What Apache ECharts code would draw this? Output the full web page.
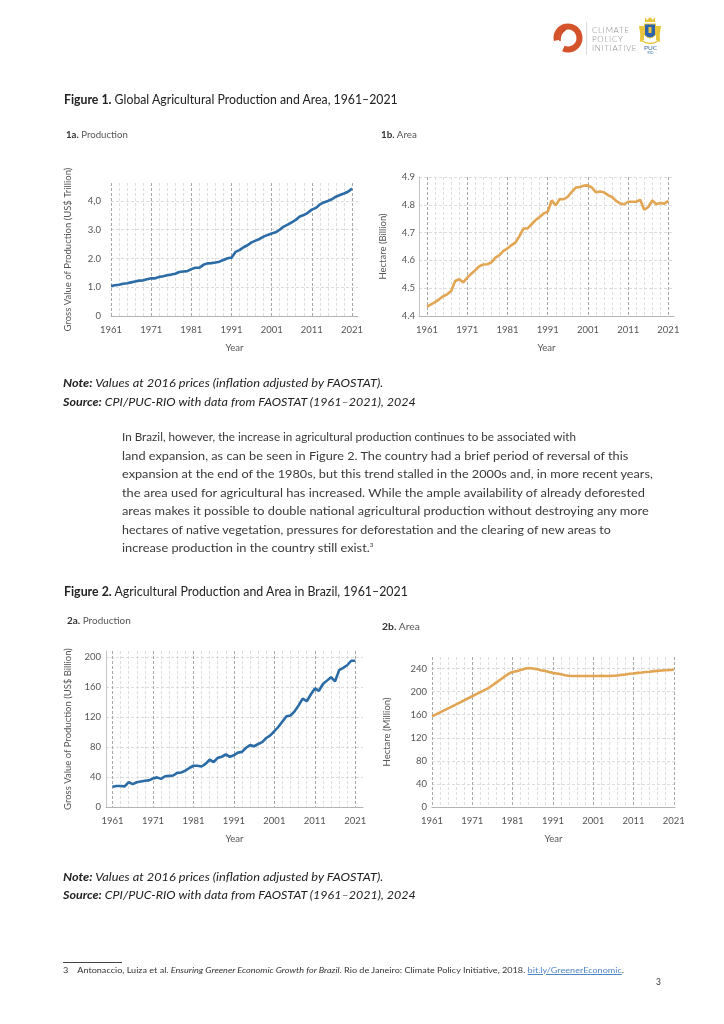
<!DOCTYPE html>
<html><head><meta charset="utf-8">
<script src="https://cdn.jsdelivr.net/npm/echarts@6/dist/echarts.min.js"></script>
<style>
html,body{margin:0;padding:0;background:#fff;}
body{width:724px;height:1024px;position:relative;overflow:hidden;font-family:Lato,"Noto Sans",sans-serif;color:#333;}
#chart{position:absolute;left:0;top:0;width:724px;height:1024px;}
.t{position:absolute;white-space:nowrap;transform-origin:0 50%;line-height:1;}
.it{font-style:italic;}
.logo{position:absolute;left:592px;font-size:8px;letter-spacing:0.7px;color:#8d8d8d;font-weight:300;line-height:1;white-space:nowrap;}
a{color:#4f86c9;text-decoration:underline;}
</style></head><body>
<div id="chart"></div>

<svg style="position:absolute;left:550px;top:14px" width="120" height="50" viewBox="0 0 120 50">
  <circle cx="18" cy="24" r="11.5" fill="none" stroke="#d4532b" stroke-width="6" stroke-dasharray="61 11.3" transform="rotate(168 18 24)"/>
  <path d="M10 27 Q9.5 19 15.5 15.5" fill="none" stroke="#c8461f" stroke-width="1.6"/>
  <line x1="36.5" y1="8" x2="36.5" y2="41" stroke="#dcdcdc" stroke-width="1"/>
  <path d="M95 3 L97 6 L100 3 L103 6 L105 3 L105 8 L95 8 Z" fill="#e8c53a"/>
  <path d="M89 12 Q91 20 90 28 L94 26 L94 12 Z" fill="#e8c53a"/>
  <path d="M111 12 Q109 20 110 28 L106 26 L106 12 Z" fill="#e8c53a"/>
  <path d="M94.5 10 L105.5 10 L105.5 21 Q100 27 94.5 21 Z" fill="#2f62ad" stroke="#e8c53a" stroke-width="1"/>
  <rect x="98.5" y="13" width="3" height="6" fill="#e8c53a"/>
  <path d="M92 27 Q100 32 108 27" fill="none" stroke="#e8c53a" stroke-width="1.4"/>
</svg>
<div class="logo" style="top:26px">CLIMATE</div>
<div class="logo" style="top:35px">POLICY</div>
<div class="logo" style="top:43.5px">INITIATIVE</div>
<div class="t" style="left:644px;top:44.5px;font-size:6.5px;color:#3c6aa6;">PUC</div>
<div class="t" style="left:647.5px;top:51.5px;font-size:3.5px;color:#3c6aa6;">RIO</div>

<div class="t" data-w="334" style="left:64px;top:94px;font-size:12.5px;color:#222;"><b>Figure 1.</b> Global Agricultural Production and Area, 1961–2021</div>
<div class="t" data-w="62" style="left:66px;top:130px;font-size:9px;color:#555;"><b style="color:#333">1a.</b> Production</div>
<div class="t" data-w="36" style="left:381px;top:130px;font-size:9px;color:#555;"><b style="color:#333">1b.</b> Area</div>

<div class="t it" data-w="320" style="left:63px;top:376.5px;font-size:11.5px;color:#222;"><b>Note:</b> Values at 2016 prices (inflation adjusted by FAOSTAT).</div>
<div class="t it" data-w="353" style="left:63px;top:395.5px;font-size:11.5px;color:#222;"><b>Source:</b> CPI/PUC-RIO with data from FAOSTAT (1961–2021), 2024</div>

<div id="para"></div>

<div class="t" data-w="344" style="left:64px;top:586px;font-size:12.5px;color:#222;"><b>Figure 2.</b> Agricultural Production and Area in Brazil, 1961–2021</div>
<div class="t" data-w="64" style="left:67px;top:615.5px;font-size:9px;color:#555;"><b style="color:#333">2a.</b> Production</div>
<div class="t" data-w="38" style="left:382px;top:621.5px;font-size:9px;color:#555;"><b style="color:#333">2b.</b> Area</div>

<div class="t it" data-w="320" style="left:63px;top:870.5px;font-size:11.5px;color:#222;"><b>Note:</b> Values at 2016 prices (inflation adjusted by FAOSTAT).</div>
<div class="t it" data-w="353" style="left:63px;top:888.5px;font-size:11.5px;color:#222;"><b>Source:</b> CPI/PUC-RIO with data from FAOSTAT (1961–2021), 2024</div>

<div style="position:absolute;left:63px;top:962px;width:59px;height:0;border-top:0.8px solid #444;"></div>
<div class="t" data-w="561" style="left:63px;top:966.5px;font-size:7.5px;color:#333;">3&nbsp;&nbsp;&nbsp;&nbsp;Antonaccio, Luiza et al. <i>Ensuring Greener Economic Growth for Brazil</i>. Rio de Janeiro: Climate Policy Initiative, 2018. <a>bit.ly/GreenerEconomic</a>.</div>
<div class="t" style="left:656px;top:978px;font-size:8.5px;color:#333;">3</div>

<script>
// ---------- DATA ----------
const years = [1961,1962,1963,1964,1965,1966,1967,1968,1969,1970,
  1971,1972,1973,1974,1975,1976,1977,1978,1979,1980,
  1981,1982,1983,1984,1985,1986,1987,1988,1989,1990,
  1991,1992,1993,1994,1995,1996,1997,1998,1999,2000,
  2001,2002,2003,2004,2005,2006,2007,2008,2009,2010,
  2011,2012,2013,2014,2015,2016,2017,2018,2019,2020,2021];

// 1a. Global gross value of production (US$ trillion)
const worldProduction = [1.04,1.07,1.09,1.12,1.14,1.17,1.20,1.23,1.24,1.28,
  1.31,1.31,1.36,1.38,1.42,1.44,1.47,1.53,1.55,1.56,
  1.63,1.68,1.68,1.78,1.83,1.84,1.86,1.89,1.95,2.01,
  2.03,2.23,2.29,2.39,2.46,2.56,2.62,2.68,2.76,2.82,
  2.87,2.91,3.00,3.11,3.18,3.26,3.34,3.46,3.51,3.59,
  3.70,3.76,3.88,3.95,4.00,4.06,4.15,4.21,4.26,4.32,4.43];

// 1b. Global agricultural area (billion ha)
const worldArea = [4.434,4.442,4.450,4.460,4.471,4.478,4.490,4.526,4.532,4.521,
  4.538,4.552,4.565,4.579,4.585,4.586,4.593,4.610,4.619,4.634,
  4.643,4.655,4.665,4.688,4.715,4.715,4.730,4.745,4.756,4.769,
  4.775,4.816,4.798,4.821,4.820,4.829,4.847,4.862,4.864,4.869,
  4.870,4.862,4.845,4.848,4.845,4.835,4.828,4.814,4.805,4.802,
  4.811,4.811,4.811,4.818,4.782,4.792,4.816,4.802,4.807,4.804,4.814];

// 2a. Brazil gross value of production (US$ billion)
const brazilProduction = [27,28,28,27.5,33,30.5,33,34,35,35.5,
  38,39.5,37.5,41,41.5,42,45.5,46,48.5,52,
  55,55,54,57.5,63,60,65.5,67,70,67,
  69,72.5,73.5,79,82.5,81,84,86.5,92,95.5,
  101,107,114,121,122,127.5,135.5,144.5,141,150,
  158,155,164,168.5,173,167.5,182.5,185.5,189,195,195];

// 2b. Brazil agricultural area (million ha)
const brazilArea = [157,160.5,164,167.5,171,174.5,178,181.5,185,188.5,
  192,195.5,199,202.5,206,211,216,221,226,231,
  234,235.5,237.5,239.5,241,240,239,237,236,234,
  232.5,231.5,230,228.5,227.5,227,227,227,227,227,
  227,227,227.5,227,227,227.5,228,229,229.5,231,
  231.5,232.5,233,234,234.5,235.5,236,236.5,237,237.5,238];

// tick labels
const xLabelYears = [1961,1971,1981,1991,2001,2011,2021];
const xGridYears = [1961,1963,1965,1967,1969,1971,1973,1975,1977,1979,1981,1983,1985,1987,1989,
  1991,1993,1995,1997,1999,2001,2003,2005,2007,2009,2011,2013,2015,2017,2019,2021];
const yTicks1a = [0,1,2,3,4];
const yLabels1a = ['0','1.0','2.0','3.0','4,0'];
const yTicks1b = [4.4,4.5,4.6,4.7,4.8,4.9];
const yLabels1b = ['4.4','4.5','4.6','4.7','4.8','4.9'];
const yTicks2a = [0,40,80,120,160,200];
const yTicks2b = [0,40,80,120,160,200,240];

const paragraphLines = [
  'In Brazil, however, the increase in agricultural production continues to be associated with',
  'land expansion, as can be seen in Figure 2. The country had a brief period of reversal of this',
  'expansion at the end of the 1980s, but this trend stalled in the 2000s and, in more recent years,',
  'the area used for agricultural has increased. While the ample availability of already deforested',
  'areas makes it possible to double national agricultural production without destroying any more',
  'hectares of native vegetation, pressures for deforestation and the clearing of new areas to',
  'increase production in the country still exist.<sup style="font-size:6px">3</sup>'
];
const paraWidths = [454,506,531,523,527,489,251];

// ---------- paragraph ----------
const para = document.getElementById('para');
paragraphLines.forEach((s,i)=>{
  const d = document.createElement('div');
  d.className='t';
  d.dataset.w = paraWidths[i];
  d.style.cssText = `left:122px;top:${438 + i*18.5 - 7}px;font-size:12.2px;color:#3a3a3a;`;
  d.innerHTML = s;
  para.appendChild(d);
});

function fit(){
  document.querySelectorAll('[data-w]').forEach(el=>{
    const w = el.offsetWidth;
    if (w>0) el.style.transform = `scaleX(${(+el.dataset.w)/w})`;
  });
}
fit();
if (document.fonts && document.fonts.ready) document.fonts.ready.then(fit);

// ---------- CHART ----------
const BLUE = '#2b6ba6', ORANGE = '#e2a553';
const LABEL = {color:'#555', fontSize:9.5, fontFamily:'Lato'};
const grids = [
  {left:111, top:183, width:247, height:133},
  {left:419, top:177, width:255, height:139},
  {left:106, top:651, width:257, height:156},
  {left:432, top:657, width:243, height:150}
];
function xAxis(g, min, max){
  return {
    type:'value', gridIndex:g, min:min, max:max,
    name:'Year', nameLocation:'middle', nameGap:27, nameMoveOverlap:false,
    nameTextStyle:{color:'#555', fontSize:9.5, fontFamily:'Lato'},
    axisLine:{show:true, lineStyle:{color:'#b3b3b3', width:1}},
    axisTick:{show:false, customValues:xGridYears},
    axisLabel:Object.assign({customValues:xLabelYears, margin:9, formatter:v=>String(v)}, LABEL),
    splitLine:{show:true, lineStyle:{color:['#a8a8a8','#dedede','#dedede','#dedede','#dedede'], type:[3,2], width:1}}
  };
}
function yAxis(g, min, max, ticks, labels, name, gap, margin, line){
  return {
    type:'value', gridIndex:g, min:min, max:max,
    name:name, nameLocation:'middle', nameGap:gap, nameRotate:90, nameMoveOverlap:false,
    nameTextStyle:{color:'#555', fontSize:9.5, fontFamily:'Lato'},
    axisLine:{show:line, lineStyle:{color:'#c4c4c4', width:1}},
    axisTick:{show:false, customValues:ticks},
    axisLabel:Object.assign({customValues:ticks, margin:margin,
      formatter:v=>{const i=ticks.findIndex(t=>Math.abs(t-v)<1e-6); return i>=0?labels[i]:'';}}, LABEL),
    splitLine:{show:true, lineStyle:{color:'#dcdcdc', type:[3,2], width:1}}
  };
}
function pairs(vals){ return years.map((y,i)=>[y, vals[i]]); }
function line(g, vals, color){
  return {type:'line', xAxisIndex:g, yAxisIndex:g, data:pairs(vals), showSymbol:false, symbol:'none',
    lineStyle:{color:color, width:2.6}, itemStyle:{color:color}, animation:false, silent:true};
}

const chart = echarts.init(document.getElementById('chart'), null, {renderer:'canvas'});
chart.setOption({
  animation:false,
  backgroundColor:'transparent',
  grid:grids.map(g=>Object.assign({containLabel:false}, g)),
  xAxis:[xAxis(0,1961,2022.5), xAxis(1,1959,2022.4), xAxis(2,1959.4,2022.9), xAxis(3,1961,2021.3)],
  yAxis:[
    yAxis(0,0,4.626,yTicks1a,yLabels1a,'Gross Value of Production (US$ Trillion)',38,10,false),
    yAxis(1,4.4,4.9,yTicks1b,yLabels1b,'Hectare (Billion)',31,4,true),
    yAxis(2,0,208,yTicks2a,yTicks2a.map(String),'Gross Value of Production (US$ Billion)',33,5,true),
    yAxis(3,0,260,yTicks2b,yTicks2b.map(String),'Hectare (Million)',40,5,false)
  ],
  series:[line(0,worldProduction,BLUE), line(1,worldArea,ORANGE), line(2,brazilProduction,BLUE), line(3,brazilArea,ORANGE)]
});
</script>
</body></html>
